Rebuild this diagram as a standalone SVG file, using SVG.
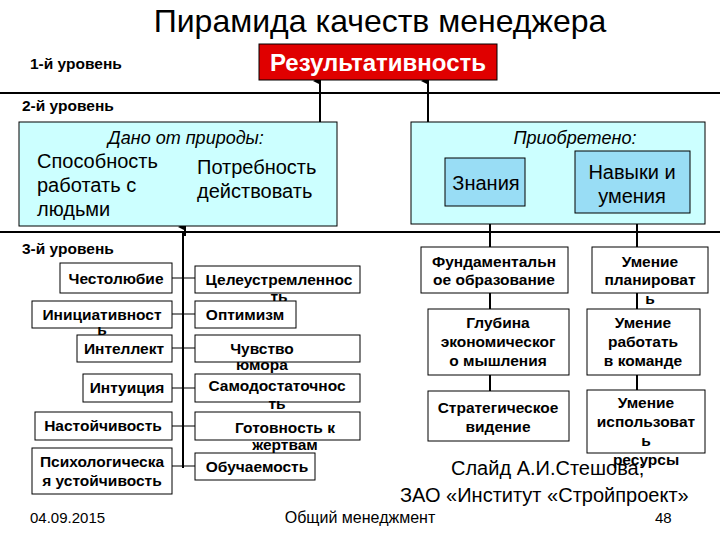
<svg xmlns="http://www.w3.org/2000/svg" width="720" height="540" viewBox="0 0 720 540">
<defs>
<marker id="ah" markerWidth="8" markerHeight="8" refX="4" refY="7" orient="auto" markerUnits="userSpaceOnUse" viewBox="0 0 8 8"><path d="M0,8 L4,0 L8,8 Z" fill="#000"/></marker>
</defs>
<style>
text{font-family:"Liberation Sans",Arial,sans-serif;fill:#000}
.b{font-weight:bold;font-size:15.5px;text-anchor:middle}
.lv{font-weight:bold;font-size:15.5px}
.box{fill:#fff;stroke:#000;stroke-width:1}
.cy{fill:#ccffff;stroke:#000;stroke-width:1}
.cy2{fill:#99ddf5;stroke:#000;stroke-width:1}
.ln{stroke:#000;stroke-width:2;fill:none}
.th{stroke:#000;stroke-width:1;fill:none}
.n{font-size:20px}
</style>
<rect width="720" height="540" fill="#fff"/>
<text x="380" y="32" font-size="32" text-anchor="middle">Пирамида качеств менеджера</text>
<text class="lv" x="30" y="69">1-й уровень</text>
<text class="lv" x="22" y="111">2-й уровень</text>
<text class="lv" x="22" y="254">3-й уровень</text>
<g id="connectors">
<line class="ln" x1="0" y1="93" x2="720" y2="93"/>
<line class="ln" x1="0" y1="232" x2="720" y2="232"/>
<line class="ln" x1="320" y1="122" x2="320" y2="81" marker-end="url(#ah)"/>
<line class="ln" x1="428" y1="122" x2="428" y2="81" marker-end="url(#ah)"/>
<line class="ln" x1="185" y1="236" x2="185" y2="227" marker-end="url(#ah)"/>
<line class="ln" x1="490" y1="232" x2="490" y2="207" marker-end="url(#ah)"/>
<line class="ln" x1="637" y1="232" x2="637" y2="214" marker-end="url(#ah)"/>
<line class="ln" x1="183" y1="232" x2="183" y2="468"/>
<path class="th" d="M172,278H195M172,314H195M172,348H195M172,388H195M172,426H195M172,466H195"/>
<line class="ln" x1="490" y1="232" x2="490" y2="391"/>
<line class="ln" x1="637" y1="232" x2="637" y2="390"/>
</g>
<g id="n-result"><rect x="259" y="44" width="238" height="36" fill="#e00000" stroke="#000"/><text x="378" y="71" font-size="24" font-weight="bold" text-anchor="middle" style="fill:#fff">Результативность</text></g>
<g id="n-nature"><rect class="cy" x="19" y="122" width="318" height="104"/>
<text x="186" y="144" font-size="18" font-style="italic" text-anchor="middle">Дано от природы:</text>
<text x="37" y="168" font-size="20">Способность</text><text x="37" y="192" font-size="20">работать с</text><text x="37" y="216" font-size="20">людьми</text>
<text x="197" y="174" font-size="20">Потребность</text><text x="197" y="198" font-size="20">действовать</text></g>
<g id="n-acq"><rect class="cy" x="411" y="122" width="294" height="102"/>
<text x="575" y="144" font-size="18" font-style="italic" text-anchor="middle">Приобретено:</text></g>
<g id="n-know"><rect class="cy2" x="445" y="158" width="80" height="48"/><text x="486" y="190" font-size="20" text-anchor="middle">Знания</text></g>
<g id="n-skill"><rect class="cy2" x="575" y="151" width="115" height="62"/><text x="632" y="179" font-size="20" text-anchor="middle">Навыки и</text><text x="632" y="203" font-size="20" text-anchor="middle">умения</text></g>
<g id="n1"><rect class="box" x="60" y="263" width="112" height="30"/><text class="b" x="116" y="284">Честолюбие</text></g>
<g id="n2"><rect class="box" x="32" y="301" width="140" height="27"/><text class="b" x="102" y="320">Инициативност</text><text class="b" x="102" y="335">ь</text></g>
<g id="n3"><rect class="box" x="77" y="335" width="95" height="27"/><text class="b" x="124" y="354">Интеллект</text></g>
<g id="n4"><rect class="box" x="83" y="374" width="89" height="28"/><text class="b" x="127" y="393">Интуиция</text></g>
<g id="n5"><rect class="box" x="35" y="412" width="137" height="28"/><text class="b" x="103" y="431">Настойчивость</text></g>
<g id="n6"><rect class="box" x="32" y="448" width="140" height="46"/><text class="b" x="102" y="467">Психологическа</text><text class="b" x="102" y="486">я устойчивость</text></g>
<g id="n7"><rect class="box" x="195" y="266" width="165" height="27"/><text class="b" x="279" y="285">Целеустремленнос</text><text class="b" x="279" y="302">ть</text></g>
<g id="n8"><rect class="box" x="195" y="301" width="101" height="27"/><text class="b" x="245" y="320">Оптимизм</text></g>
<g id="n9"><rect class="box" x="195" y="335" width="165" height="27"/><text class="b" x="262" y="354">Чувство</text><text class="b" x="262" y="370">юмора</text></g>
<g id="n10"><rect class="box" x="195" y="374" width="165" height="28"/><text class="b" x="277" y="391">Самодостаточнос</text><text class="b" x="277" y="409">ть</text></g>
<g id="n11"><rect class="box" x="195" y="412" width="165" height="28"/><text class="b" x="285" y="433">Готовность к</text><text class="b" x="285" y="450">жертвам</text></g>
<g id="n12"><rect class="box" x="195" y="453" width="120" height="27"/><text class="b" x="257" y="472">Обучаемость</text></g>
<g id="n13"><rect class="box" x="421" y="247" width="147" height="46"/><text class="b" x="494" y="267">Фундаментальн</text><text class="b" x="494" y="285">ое образование</text></g>
<g id="n14"><rect class="box" x="428" y="309" width="141" height="66"/><text class="b" x="498" y="328">Глубина</text><text class="b" x="498" y="347">экономическог</text><text class="b" x="498" y="366">о мышления</text></g>
<g id="n15"><rect class="box" x="428" y="391" width="141" height="50"/><text class="b" x="498" y="413">Стратегическое</text><text class="b" x="498" y="432">видение</text></g>
<g id="n16"><rect class="box" x="592" y="247" width="116" height="46"/><text class="b" x="650" y="267">Умение</text><text class="b" x="650" y="285">планироват</text><text class="b" x="650" y="304">ь</text></g>
<g id="n17"><rect class="box" x="587" y="309" width="113" height="66"/><text class="b" x="643" y="328">Умение</text><text class="b" x="643" y="347">работать</text><text class="b" x="643" y="366">в команде</text></g>
<g id="n18"><rect class="box" x="587" y="390" width="118" height="63"/><text class="b" x="646" y="408">Умение</text><text class="b" x="646" y="427">использоват</text><text class="b" x="646" y="446">ь</text><text class="b" x="646" y="465">ресурсы</text></g>
<text class="n" x="451" y="475">Слайд А.И.Стешова;</text>
<text class="n" x="400" y="502">ЗАО «Институт «Стройпроект»</text>
<text x="30" y="523" font-size="15">04.09.2015</text>
<text x="360" y="523" font-size="16" text-anchor="middle">Общий менеджмент</text>
<text x="655" y="523" font-size="15">48</text>
</svg>
